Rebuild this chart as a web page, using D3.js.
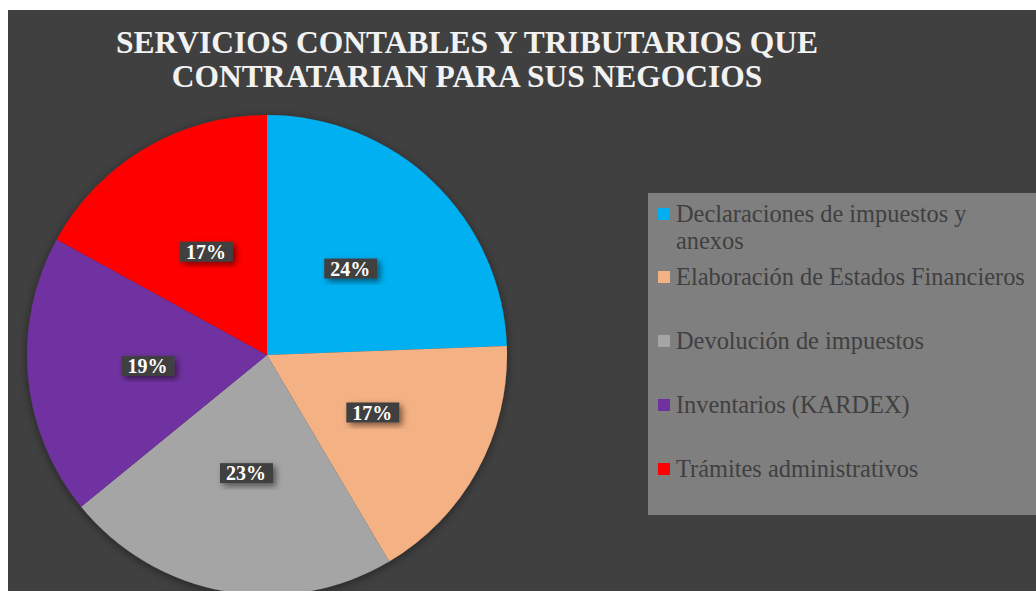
<!DOCTYPE html>
<html>
<head>
<meta charset="utf-8">
<script src="https://cdn.jsdelivr.net/npm/d3@7"></script>
<style>
  html, body { margin: 0; padding: 0; background: #fff; }
  svg { display: block; }
  text { font-family: "Liberation Serif", "Times New Roman", serif; }
</style>
</head>
<body>
<svg id="chart" width="1036" height="591"></svg>
<script>
const categories = [
  "Declaraciones de impuestos y anexos",
  "Elaboración de Estados Financieros",
  "Devolución de impuestos",
  "Inventarios (KARDEX)",
  "Trámites administrativos"
];
const values = [24.4, 17.1, 22.6, 18.9, 17.0];
const colors = ["#00B0F0", "#F4B183", "#A5A5A5", "#7030A0", "#FF0000"];
const titleLines = ["SERVICIOS CONTABLES Y TRIBUTARIOS QUE", "CONTRATARIAN PARA SUS NEGOCIOS"];
// legend lines (first entry wraps)
const legendLines = [["Declaraciones de impuestos y", "anexos"], ["Elaboración de Estados Financieros"],
  ["Devolución de impuestos"], ["Inventarios (KARDEX)"], ["Trámites administrativos"]];

function drawTheGraph() {
  const svg = d3.select("#chart");
  const data = categories.map((c, i) => ({ name: c, value: values[i], color: colors[i] }));
  const total = d3.sum(values);

  const defs = svg.append("defs");
  const sh = defs.append("filter").attr("id", "shadow")
    .attr("x", "-20%").attr("y", "-20%").attr("width", "150%").attr("height", "150%");
  sh.append("feDropShadow").attr("dx", 3).attr("dy", 3).attr("stdDeviation", 3)
    .attr("flood-color", "#000").attr("flood-opacity", 0.5);
  const psh = defs.append("filter").attr("id", "pieShadow")
    .attr("x", "-20%").attr("y", "-20%").attr("width", "140%").attr("height", "140%");
  psh.append("feDropShadow").attr("dx", 0).attr("dy", 2).attr("stdDeviation", 5)
    .attr("flood-color", "#000").attr("flood-opacity", 0.45);

  // chart area background
  svg.append("rect").attr("x", 8).attr("y", 10).attr("width", 1028).attr("height", 581)
    .attr("fill", "#404040");

  // title
  svg.append("g").selectAll("text")
    .data(titleLines).enter().append("text")
    .attr("x", 467).attr("y", (d, i) => 53 + i * 34)
    .attr("text-anchor", "middle")
    .attr("fill", "#F2F2F2")
    .attr("font-weight", "bold")
    .attr("font-size", 31.5)
    .text(d => d);

  // pie
  const cx = 267, cy = 355, r = 240;
  const pie = d3.pie().sort(null).value(d => d.value);
  const arc = d3.arc().innerRadius(0).outerRadius(r);
  const arcs = pie(data);
  const g = svg.append("g").attr("transform", `translate(${cx},${cy})`);

  g.append("g").attr("filter", "url(#pieShadow)")
    .selectAll("path").data(arcs).enter().append("path")
    .attr("d", arc)
    .attr("fill", d => d.data.color);

  const labels = g.selectAll(".lbl").data(arcs).enter().append("g")
    .attr("class", "lbl")
    .attr("transform", d => `translate(${arc.centroid(d)})`);
  labels.append("rect")
    .attr("x", -26).attr("y", -10).attr("width", 53).attr("height", 20)
    .attr("fill", "#404040")
    .attr("filter", "url(#shadow)");
  labels.append("text")
    .attr("text-anchor", "middle")
    .attr("dy", "0.36em")
    .attr("fill", "#FFFFFF")
    .attr("font-weight", "bold")
    .attr("font-size", 20)
    .text(d => Math.round(d.data.value / total * 100) + "%");

  // legend
  const legend = svg.append("g").attr("class", "legend");
  legend.append("rect")
    .attr("x", 648).attr("y", 193).attr("width", 400).attr("height", 322)
    .attr("fill", "#7F7F7F");

  const rowY = [222, 285, 349, 413, 477];
  const item = legend.selectAll(".item").data(data).enter().append("g")
    .attr("class", "item")
    .attr("transform", (d, i) => `translate(658,${rowY[i]})`);
  item.append("rect")
    .attr("x", 0).attr("y", -14).attr("width", 12).attr("height", 12)
    .attr("fill", d => d.color);
  item.append("text")
    .attr("x", 18)
    .attr("fill", "#404040")
    .attr("font-size", 24.4)
    .selectAll("tspan")
    .data((d, i) => legendLines[i]).enter().append("tspan")
    .attr("x", 18)
    .attr("dy", (d, j) => j === 0 ? 0 : 27)
    .text(d => d);
}
drawTheGraph();
</script>
</body>
</html>
